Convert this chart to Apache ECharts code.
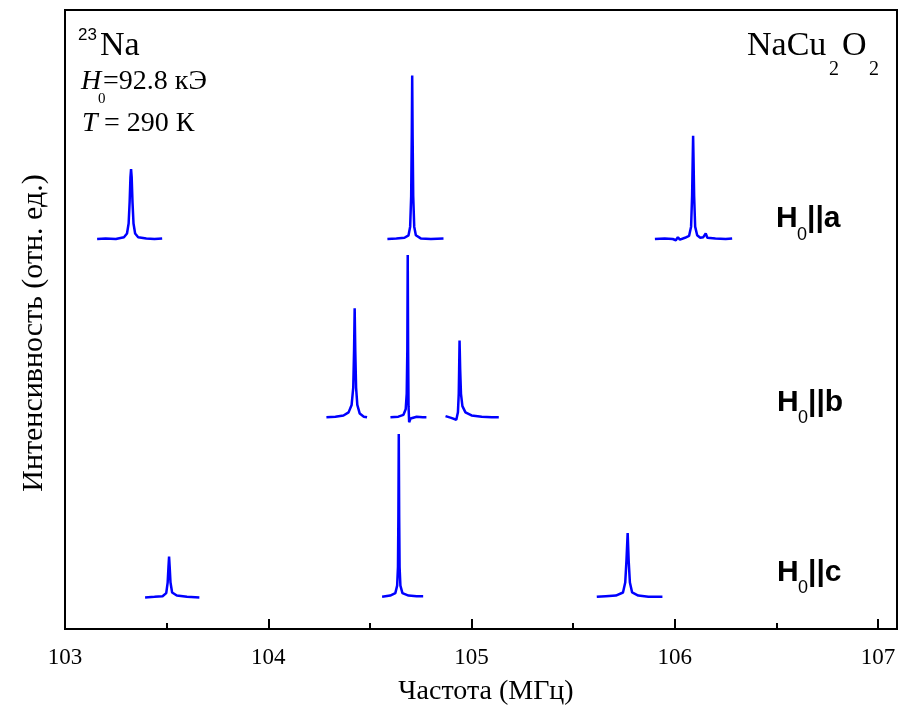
<!DOCTYPE html>
<html><head><meta charset="utf-8">
<script src="https://cdn.jsdelivr.net/npm/echarts@6/dist/echarts.min.js"></script>
<style>html,body{margin:0;padding:0;background:#fff}#c{width:899px;height:715px}</style>
</head><body><div id="c"></div>
<script>
// Frequencies (MHz) and intensity (arb. units)
const peakA1 = [[103.158,63.0],[103.20,63.1],[103.25,63.0],[103.29,63.3],[103.305,63.9],[103.313,65.5],[103.318,69],[103.322,73],[103.325,74.3],[103.328,73],[103.332,69],[103.337,65.5],[103.345,63.9],[103.36,63.3],[103.40,63.1],[103.44,63.0],[103.478,63.1]];
const peakA2 = [[104.586,63.0],[104.63,63.1],[104.67,63.2],[104.69,63.6],[104.698,65],[104.703,70],[104.706,80],[104.708,89.4],[104.710,80],[104.713,70],[104.718,65],[104.726,63.6],[104.75,63.1],[104.80,63.0],[104.862,63.1]];
const peakA3 = [[105.902,63.0],[105.95,63.1],[105.99,63.0],[106.005,62.8],[106.015,63.3],[106.025,62.9],[106.05,63.2],[106.07,63.5],[106.080,65],[106.085,70],[106.088,76],[106.090,79.7],[106.092,76],[106.095,70],[106.10,65],[106.11,63.6],[106.125,63.2],[106.14,63.3],[106.152,63.9],[106.16,63.2],[106.20,63.1],[106.25,63.0],[106.282,63.1]];
const peakB1 = [[104.286,34.2],[104.33,34.3],[104.37,34.5],[104.395,35.0],[104.41,36.2],[104.418,39],[104.422,45],[104.425,51.8],[104.428,45],[104.432,39],[104.438,36.2],[104.45,34.8],[104.47,34.3],[104.486,34.2]];
const peakB2 = [[104.601,34.2],[104.64,34.3],[104.665,34.6],[104.676,35.5],[104.681,38],[104.684,45],[104.686,60.4],[104.688,45],[104.690,36],[104.693,33.4],[104.70,34.0],[104.73,34.3],[104.76,34.2],[104.778,34.2]];
const peakB3 = [[104.872,34.4],[104.90,34.1],[104.925,33.8],[104.933,35],[104.937,38],[104.939,42],[104.941,46.6],[104.944,42],[104.948,38],[104.955,36],[104.97,35],[105.00,34.5],[105.05,34.3],[105.10,34.2],[105.134,34.2]];
const peakC1 = [[103.394,5.1],[103.44,5.2],[103.48,5.3],[103.498,5.8],[103.505,7.5],[103.509,10],[103.512,11.7],[103.515,10],[103.519,7.5],[103.527,5.9],[103.55,5.4],[103.60,5.2],[103.661,5.1]];
const peakC2 = [[104.560,5.2],[104.60,5.4],[104.625,5.8],[104.634,7],[104.638,10],[104.640,18],[104.642,31.5],[104.644,18],[104.646,10],[104.650,7],[104.66,5.8],[104.69,5.4],[104.73,5.3],[104.762,5.3]];
const peakC3 = [[105.616,5.2],[105.66,5.3],[105.71,5.4],[105.745,5.9],[105.756,7.5],[105.762,11],[105.768,15.5],[105.773,11],[105.779,7.5],[105.79,5.9],[105.82,5.4],[105.87,5.2],[105.939,5.2]];
const xTicks = [103,104,105,106,107];

const peaks = [peakA1,peakA2,peakA3,peakB1,peakB2,peakB3,peakC1,peakC2,peakC3];
const serif = 'Liberation Serif';
const sans = 'Liberation Sans';
const chart = echarts.init(document.getElementById('c'), null, {renderer:'canvas'});
function t(x, y, text, size, family, opts){
  opts = opts || {};
  return {type:'text', x:x, y:y, z:10, rotation:opts.rotation||0,
    style:{text:text, fontSize:size, fontFamily:family, fontWeight:opts.weight||'normal',
      fontStyle:opts.italic?'italic':'normal', fill:'#000',
      align:opts.align||'left', verticalAlign:'middle'}};
}
chart.setOption({
  animation:false,
  grid:{left:65, right:2, top:10, bottom:86, show:true, borderColor:'#000', borderWidth:2, backgroundColor:'transparent'},
  xAxis:{type:'value', min:103, max:107.093, interval:1,
    axisLine:{show:true, onZero:false, lineStyle:{color:'#000', width:2}},
    axisTick:{show:true, inside:true, length:10, lineStyle:{color:'#000', width:2}, customValues: xTicks},
    minorTick:{show:true, splitNumber:2, length:6, lineStyle:{color:'#000', width:2}},
    axisLabel:{color:'#000', fontSize:23, fontFamily:serif, margin:17, customValues: xTicks},
    splitLine:{show:false}
  },
  yAxis:{type:'value', min:0, max:100,
    axisLine:{show:false}, axisTick:{show:false}, axisLabel:{show:false}, splitLine:{show:false}
  },
  series: peaks.map(function(p){ return {type:'line', data:p, showSymbol:false, symbol:'none',
    lineStyle:{color:'#0000ff', width:2.5}, itemStyle:{color:'#0000ff'}, smooth:false}; }),
  graphic:[
    t(486, 692, 'Частота (МГц)', 28, serif, {align:'center'}),
    t(34, 333, 'Интенсивность (отн. ед.)', 30, serif, {align:'center', rotation:Math.PI/2}),
    t(78, 35, '23', 17, sans),
    t(100, 46, 'Na', 34, serif),
    t(81, 82, 'H', 28, serif, {italic:true}),
    t(98, 99, '0', 15, serif),
    t(103, 82, '=92.8 кЭ', 28, serif),
    t(82, 124, 'T', 28, serif, {italic:true}),
    t(97, 124, ' = 290 К', 28, serif),
    t(747, 46, 'NaCu', 34, serif),
    t(829, 70, '2', 20, serif),
    t(842, 46, 'O', 34, serif),
    t(869, 70, '2', 20, serif),
    t(776, 219, 'H', 30, sans, {weight:'bold'}),
    t(797, 235, '0', 18, sans),
    t(807, 219, '||a', 30, sans, {weight:'bold'}),
    t(777, 403, 'H', 30, sans, {weight:'bold'}),
    t(798, 418, '0', 18, sans),
    t(808, 403, '||b', 30, sans, {weight:'bold'}),
    t(777, 573, 'H', 30, sans, {weight:'bold'}),
    t(798, 588, '0', 18, sans),
    t(808, 573, '||c', 30, sans, {weight:'bold'})
  ]
});
</script></body></html>
